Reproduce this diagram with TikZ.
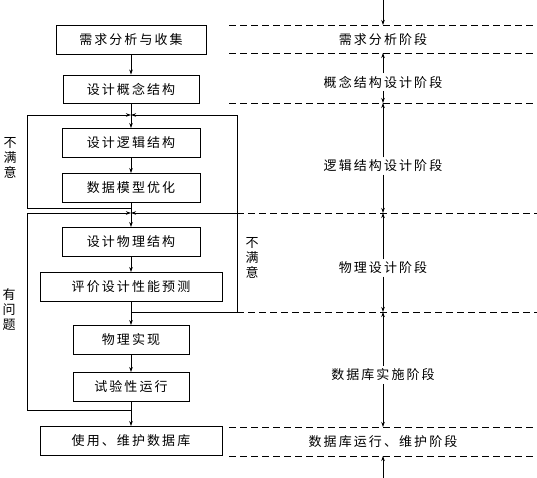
\documentclass[tikz,border=0pt]{standalone}
\usepackage{fontspec}
\setmainfont{Noto Sans CJK SC}[LetterSpace=16]
\usetikzlibrary{arrows.meta,calc,positioning}
\tikzset{box/.style={draw,line width=0.9pt,align=center,minimum height=29pt,inner sep=2pt,font=\fontsize{13}{15}\selectfont},
  arr/.style={-{Stealth[length=5pt,width=3.5pt]},line width=0.7pt},
  sep/.style={line width=0.9pt,dash pattern=on 7pt off 4pt},
  stage/.style={inner sep=2.5pt,font=\fontsize{13}{15}\selectfont},
  vlab/.style={align=center,inner sep=0pt,font=\fontsize{13}{15}\selectfont}}
\begin{document}
\begin{tikzpicture}[x=1pt,y=-1pt]
\useasboundingbox (0,0) rectangle (537,478);
\node[box,minimum width=150pt] (req) at (131,40) {需求分析与收集};
\node[box,minimum width=136pt,minimum height=28pt] (con) at (131,89) {设计概念结构};
\node[box,minimum width=138pt] (log) at (131,143) {设计逻辑结构};
\node[box,minimum width=138pt] (opt) at (131,188) {数据模型优化};
\node[box,minimum width=138pt] (phy) at (131,242) {设计物理结构};
\node[box,minimum width=182pt] (eva) at (131,287) {评价设计性能预测};
\node[box,minimum width=116pt] (imp) at (131,340) {物理实现};
\node[box,minimum width=116pt] (tri) at (131,387) {试验性运行};
\node[box,minimum width=182pt] (use) at (131,441) {使用、维护数据库};
\draw[arr] (req) -- (con);
\draw[arr] (con) -- (log);
\draw[arr] (log) -- (opt);
\draw[arr] (opt) -- (phy);
\draw[arr] (phy) -- (eva);
\draw[arr] (eva) -- (imp);
\draw[arr] (imp) -- (tri);
\draw[arr] (tri) -- (use);
\coordinate (j1) at (131,115);
\coordinate (j2) at (131,213);
\coordinate (o1) at (131,208);
\coordinate (o2) at (131,312);
\coordinate (o3) at (131,410);
\coordinate (l1) at (27,115);
\coordinate (l2) at (27,213);
\coordinate (r1) at (237,115);
\coordinate (r2) at (237,213);
\draw[arr] (o1) -| (l1) -- (j1);
\draw[arr] (o2) -| (r1) -- (j1);
\draw[arr] (r2) -- (j2);
\draw[arr] (o3) -| (l2) -- (j2);
\node[vlab] (bad1) at (10,158) {不\\满\\意};
\node[vlab] (bad2) at (252,258) {不\\满\\意};
\node[vlab] (err) at (9,310) {有\\问\\题};
\foreach \y in {25,53,103,427,456} \draw[sep] (229,\y) -- (537,\y);
\foreach \y in {213,312} \draw[sep] (237,\y) -- (537,\y);
\node[stage] (s1) at (383,40) {需求分析阶段};
\node[stage] (s2) at (383,82) {概念结构设计阶段};
\node[stage] (s3) at (383,166) {逻辑结构设计阶段};
\node[stage] (s4) at (383,268) {物理设计阶段};
\node[stage] (s5) at (383,375) {数据库实施阶段};
\node[stage] (s6) at (383,442) {数据库运行、维护阶段};
\coordinate (t0) at (383,0);
\coordinate (d1) at (383,25);
\coordinate (d2) at (383,53);
\coordinate (d3) at (383,103);
\coordinate (d4) at (383,213);
\coordinate (d5) at (383,312);
\coordinate (d6) at (383,427);
\coordinate (d7) at (383,456);
\coordinate (t8) at (383,478);
\draw[arr] (t0) -- (d1);
\draw[arr] (s2) -- (d2);
\draw[arr] (s2) -- (d3);
\draw[arr] (s3) -- (d3);
\draw[arr] (s3) -- (d4);
\draw[arr] (s4) -- (d4);
\draw[arr] (s4) -- (d5);
\draw[arr] (s5) -- (d5);
\draw[arr] (s5) -- (d6);
\draw[arr] (t8) -- (d7);
\end{tikzpicture}
\end{document}
